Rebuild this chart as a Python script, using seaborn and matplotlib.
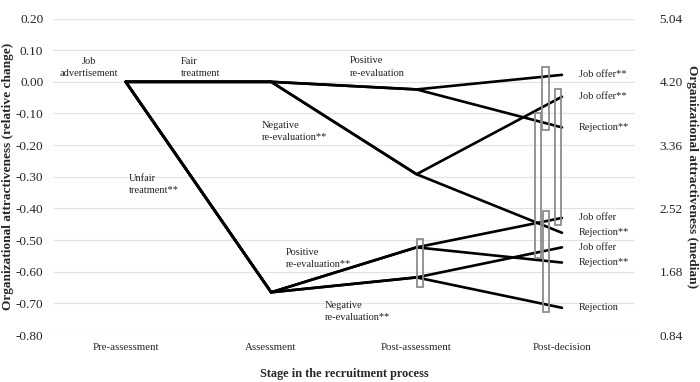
import matplotlib
matplotlib.use("Agg")
import matplotlib.pyplot as plt
import pandas as pd
import seaborn as sns

stages = ["Pre-assessment", "Assessment", "Post-assessment", "Post-decision"]

# relative change in attractiveness along each branch (one value per stage)
path_names = ["fair_pos_offer", "fair_pos_rej", "fair_neg_offer", "fair_neg_rej",
              "unfair_pos_offer", "unfair_pos_rej", "unfair_neg_offer", "unfair_neg_rej"]
fair_pos_offer = [0.0, 0.0, -0.024, 0.022]
fair_pos_rej = [0.0, 0.0, -0.024, -0.144]
fair_neg_offer = [0.0, 0.0, -0.292, -0.047]
fair_neg_rej = [0.0, 0.0, -0.292, -0.477]
unfair_pos_offer = [0.0, -0.665, -0.523, -0.430]
unfair_pos_rej = [0.0, -0.665, -0.523, -0.571]
unfair_neg_offer = [0.0, -0.665, -0.618, -0.523]
unfair_neg_rej = [0.0, -0.665, -0.618, -0.714]
end_labels = ["Job offer**", "Rejection**", "Job offer**", "Rejection**",
              "Job offer", "Rejection**", "Job offer", "Rejection"]

# branch annotations: text, stage position, value
branch_text = ["Job\nadvertisement", "Fair\ntreatment", "Positive\nre-evaluation",
               "Negative\nre-evaluation**", "Unfair\ntreatment**",
               "Positive\nre-evaluation**", "Negative\nre-evaluation**"]
branch_x = [-0.25, 0.377, 1.54, 0.935, 0.02, 1.10, 1.367]
branch_y = [0.046, 0.046, 0.047, -0.157, -0.325, -0.559, -0.725]
branch_ha = ["center", "left", "left", "left", "left", "left", "left"]

# median ranges (right axis)
box_x = [2.023, 2.887, 2.972, 2.833, 2.890]
box_low = [1.475, 3.559, 2.298, 1.860, 1.144]
box_high = [2.112, 4.395, 4.103, 3.785, 2.484]

series = [fair_pos_offer, fair_pos_rej, fair_neg_offer, fair_neg_rej,
          unfair_pos_offer, unfair_pos_rej, unfair_neg_offer, unfair_neg_rej]
rows = []
for name, vals in zip(path_names, series):
    for i, v in enumerate(vals):
        rows.append({"path": name, "stage": i, "value": v})
df = pd.DataFrame(rows)

sns.set_theme(style="white")
plt.rcParams["font.family"] = ["Liberation Serif", "DejaVu Serif"]
plt.rcParams["axes.unicode_minus"] = False

fig = plt.figure(figsize=(7, 3.82), dpi=100)
ax = fig.add_axes([0.0757, 0.123, 0.831, 0.8285])

sns.lineplot(data=df, x="stage", y="value", units="path", estimator=None,
             color="black", linewidth=1.9, ax=ax, zorder=3)

ax.set_xlim(-0.5, 3.5)
ax.set_ylim(-0.8, 0.2)
ax.set_yticks([i / 10 for i in range(-8, 3)])
ax.set_yticklabels([f"{i / 10:.2f}" for i in range(-8, 3)], fontsize=9.5)
ax.set_xticks(range(len(stages)))
ax.set_xticklabels(stages, fontsize=7.8)
ax.grid(axis="y", color="#e3e3e3", linewidth=0.9)
ax.set_axisbelow(True)
for s in ax.spines.values():
    s.set_visible(False)
ax.tick_params(axis="both", length=0)
ax.tick_params(axis="y", pad=7)
ax.tick_params(axis="x", pad=6)

for t, x, y, ha in zip(branch_text, branch_x, branch_y, branch_ha):
    ax.text(x, y, t, ha=ha, va="center", fontsize=7.5, color="#222222",
            linespacing=1.45)

for vals, lab in zip(series, end_labels):
    ax.text(3.116, vals[-1], lab, ha="left", va="center", fontsize=7.5,
            color="#222222")

ax.set_xlabel("Stage in the recruitment process", fontsize=8.8,
              fontweight="bold", labelpad=11)
ax.set_ylabel("Organizational attractiveness (relative change)", fontsize=9.6,
              fontweight="bold", labelpad=1)

ax2 = ax.twinx()
ax2.set_ylim(0.84, 5.04)
ticks_r = [0.84, 1.68, 2.52, 3.36, 4.20, 5.04]
ax2.set_yticks(ticks_r)
ax2.set_yticklabels([f"{t:.2f}" for t in ticks_r], fontsize=9.5)
ax2.bar(box_x, [h - l for h, l in zip(box_high, box_low)], bottom=box_low,
        width=0.042, facecolor="none", edgecolor="#8c8c8c", linewidth=1.3)
for s in ax2.spines.values():
    s.set_visible(False)
ax2.tick_params(axis="y", length=0, pad=18)
ax2.set_ylabel("Organizational attractiveness (median)", fontsize=9.6,
               fontweight="bold", rotation=270, labelpad=11)
ax2.grid(False)

fig.savefig("out.png", dpi=100)
